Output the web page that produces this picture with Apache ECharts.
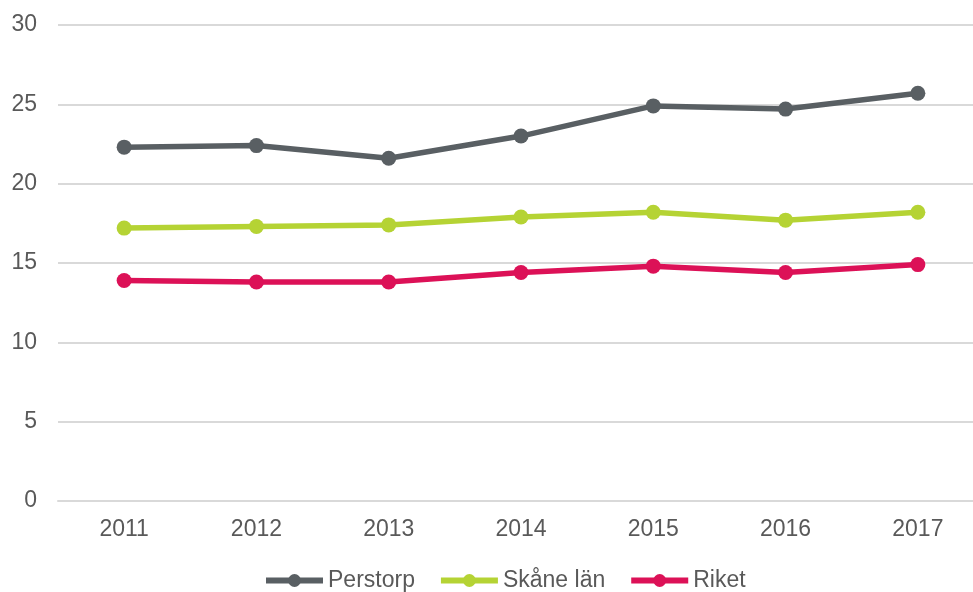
<!DOCTYPE html>
<html><head><meta charset="utf-8">
<script src="https://cdn.jsdelivr.net/npm/echarts@6/dist/echarts.min.js"></script>
<style>html,body{margin:0;padding:0;background:#fff;overflow:hidden;width:973px;height:592px}#c{width:984px;height:592px}</style>
</head><body><div id="c"></div>
<script>
const categories = ['2011','2012','2013','2014','2015','2016','2017'];
const perstorp = [22.3, 22.4, 21.6, 23.0, 24.9, 24.7, 25.7];
const skane = [17.2, 17.3, 17.4, 17.9, 18.2, 17.7, 18.2];
const riket = [13.9, 13.8, 13.8, 14.4, 14.8, 14.4, 14.9];
const seriesNames = ['Perstorp', 'Skåne län', 'Riket'];
const colors = ['#595f63', '#b5d334', '#dc1157'];

const chart = echarts.init(document.getElementById('c'));
const mk = (name, data, color) => ({
  name, type: 'line', data,
  symbol: 'circle', symbolSize: 15,
  lineStyle: { width: 5.5, color },
  itemStyle: { color },
  emphasis: { disabled: true },
  animation: false
});
chart.setOption({
  animation: false,
  textStyle: { fontFamily: 'Liberation Sans, Arial, sans-serif' },
  grid: { left: 58, right: 0, top: 25, bottom: 91, containLabel: false },
  legend: {
    top: 569, left: 263, padding: 0,
    itemWidth: 57, itemHeight: 16, itemGap: 23,
    lineStyle: { width: 6 },
    textStyle: { fontSize: 23, color: '#595959' },
    data: seriesNames
  },
  xAxis: {
    type: 'category', data: categories, boundaryGap: true,
    axisLine: { show: true, lineStyle: { color: '#d9d9d9', width: 2 } },
    axisTick: { show: false },
    axisLabel: { color: '#595959', fontSize: 23, margin: 17 }
  },
  yAxis: {
    type: 'value', min: 0, max: 30, interval: 5,
    axisLine: { show: false }, axisTick: { show: false },
    axisLabel: { color: '#595959', fontSize: 23, margin: 21 },
    splitLine: { lineStyle: { color: '#d9d9d9', width: 2 } }
  },
  series: [
    mk(seriesNames[0], perstorp, colors[0]),
    mk(seriesNames[1], skane, colors[1]),
    mk(seriesNames[2], riket, colors[2])
  ]
});
</script></body></html>
